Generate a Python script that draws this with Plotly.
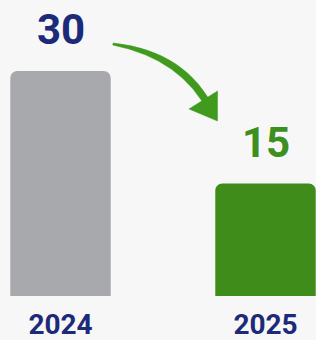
import plotly.graph_objects as go

# Data
categories = ["2024", "2025"]
values = [30, 15]
bar_colors = ["#a8a9ac", "#3f8c1b"]
label_colors = ["#1c2a79", "#3d8f20"]

W, H = 316, 340
ML, MR, MT, MB = 0, 0, 0, 44
PX_PER_UNIT = 7.5
plot_h = H - MT - MB
ymax = plot_h / PX_PER_UNIT

fig = go.Figure()
fig.add_trace(go.Bar(
    x=[0, 1], y=values,
    marker=dict(color=bar_colors, line=dict(width=0), cornerradius=7),
    width=0.49,
    hoverinfo="skip",
))

for i, (v, c) in enumerate(zip(values, label_colors)):
    fig.add_annotation(
        x=i, y=v, text=f"<b>{v}</b>", showarrow=False,
        yanchor="bottom", yshift=15,
        font=dict(family="Roboto", size=42, color=c),
    )

# Curved arrow decoration (pixel -> paper conversion)
def px(x):
    return (x - ML) / (W - ML - MR)

def py(y):
    return (H - MB - y) / plot_h

def P(x, y):
    return f"{px(x):.5f},{py(y):.5f}"

arrow_color = "#3f9a1e"
body = (f"M {P(113.3,43)} Q {P(187,51)} {P(215,110.5)} "
        f"L {P(209,113.5)} Q {P(182,59)} {P(112.7,45)} Z")
head = f"M {P(189,109)} L {P(217.5,91)} L {P(217.5,121)} Z"
for path in (body, head):
    fig.add_shape(type="path", path=path, xref="paper", yref="paper",
                  fillcolor=arrow_color, line=dict(color=arrow_color, width=0.5))

fig.update_layout(
    width=W, height=H,
    margin=dict(l=ML, r=MR, t=MT, b=MB, pad=0, autoexpand=False),
    paper_bgcolor="#f7f7f7", plot_bgcolor="#f7f7f7",
    showlegend=False,
    xaxis=dict(range=[-60.5 / 205, (W - 60.5) / 205], tickvals=[0, 1],
               ticktext=[f"<b>{c}</b>" for c in categories],
               tickfont=dict(family="Roboto", size=28, color="#1c2a79"),
               showgrid=False, zeroline=False, showline=False, ticks="",
               ticklabelstandoff=9, automargin=False, fixedrange=True),
    yaxis=dict(range=[0, ymax], visible=False, automargin=False,
               fixedrange=True),
)

fig.write_html("out.html", config={"displayModeBar": False},
               post_script="document.body.style.margin='0';"
                           "document.body.style.background='#f7f7f7';")
